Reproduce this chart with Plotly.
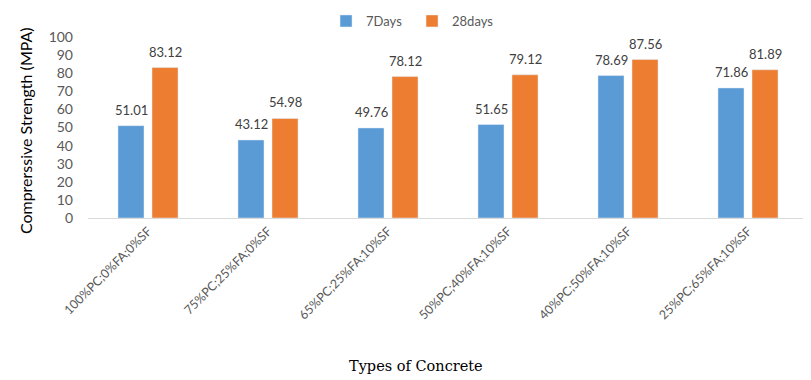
import plotly.graph_objects as go

categories = ["100%PC;0%FA;0%SF", "75%PC;25%FA;0%SF", "65%PC;25%FA;10%SF",
              "50%PC;40%FA;10%SF", "40%PC;50%FA;10%SF", "25%PC;65%FA;10%SF"]
days7 = [51.01, 43.12, 49.76, 51.65, 78.69, 71.86]
days28 = [83.12, 54.98, 78.12, 79.12, 87.56, 81.89]
y_ticks = [0, 10, 20, 30, 40, 50, 60, 70, 80, 90, 100]

font_main = "Lato, Open Sans, sans-serif"

fig = go.Figure()
fig.add_trace(go.Bar(name="7Days", x=categories, y=days7, marker_color="#5B9BD5"))
fig.add_trace(go.Bar(name="28days", x=categories, y=days28, marker_color="#ED7D31"))

labels = []
for series, shift in ((days7, -17), (days28, 17)):
    for cat, v in zip(categories, series):
        labels.append(dict(text=f"{v:.2f}", x=cat, y=v, xref="x", yref="y",
                           xshift=shift, yshift=16, xanchor="center", yanchor="middle",
                           showarrow=False,
                           font=dict(size=13, color="#404040", family=font_main)))

fig.update_layout(
    width=803, height=372,
    margin=dict(l=80, r=3, t=29, b=162, autoexpand=False),
    paper_bgcolor="white", plot_bgcolor="white",
    barmode="group", bargap=0.433, bargroupgap=0.235,
    font=dict(family=font_main, color="#595959", size=13),
    legend=dict(orientation="h", x=0.3306, xanchor="left", yref="container",
                y=0.965, yanchor="middle", entrywidth=41, entrywidthmode="pixels",
                font=dict(size=13, color="#595959"),
                traceorder="normal"),
    xaxis=dict(showline=True, linecolor="#D9D9D9", linewidth=1, ticks="",
               tickangle=-45, tickfont=dict(size=12.5, color="#595959"),
               automargin=False),
    yaxis=dict(range=[0, 100], tickvals=y_ticks, showgrid=False, zeroline=False,
               showline=False, ticks="", tickfont=dict(size=14, color="#595959"),
               ticklabelstandoff=14, automargin=False),
    annotations=labels + [
        dict(text="Comprerssive Strength (MPA)", xref="paper", yref="paper",
             x=-0.0875, y=0.48, xanchor="center", yanchor="middle", textangle=-90,
             showarrow=False, font=dict(size=16, color="#000000", family=font_main)),
        dict(text="Types of Concrete", xref="paper", yref="paper",
             x=0.4556, y=-0.818, xanchor="center", yanchor="middle",
             showarrow=False,
             font=dict(size=14.5, color="#000000", family="DejaVu Serif, Liberation Serif, serif")),
    ],
    showlegend=True,
)

fig.write_html("out.html")
